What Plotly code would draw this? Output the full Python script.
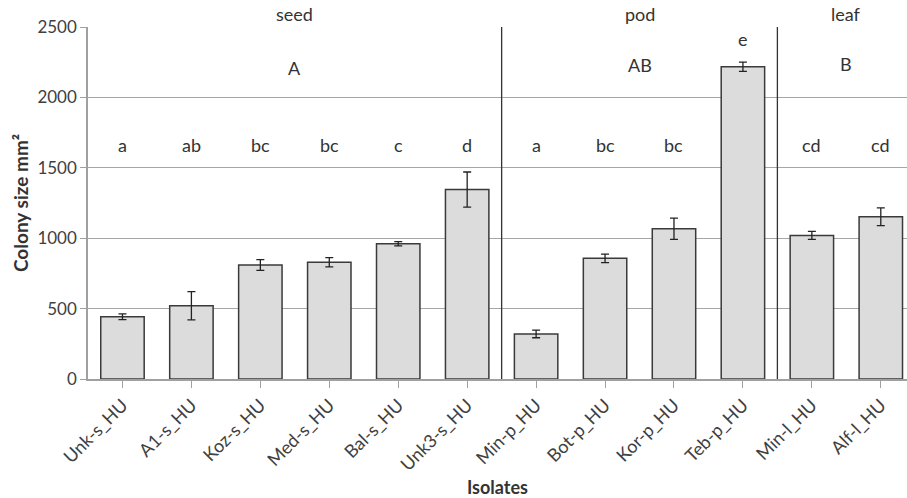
import plotly.graph_objects as go

isolates = ["Unk-s_HU", "A1-s_HU", "Koz-s_HU", "Med-s_HU", "Bal-s_HU", "Unk3-s_HU",
            "Min-p_HU", "Bot-p_HU", "Kor-p_HU", "Teb-p_HU", "Min-l_HU", "Alf-l_HU"]
colony_size = [442, 520, 810, 829, 961, 1345, 320, 857, 1067, 2218, 1020, 1153]
error = [20, 100, 38, 33, 15, 125, 27, 30, 75, 33, 28, 63]
letters = ["a", "ab", "bc", "bc", "c", "d", "a", "bc", "bc", "e", "cd", "cd"]
letter_y = [1660, 1660, 1660, 1660, 1660, 1660, 1660, 1660, 1660, 2415, 1665, 1665]

groups = ["seed", "pod", "leaf"]
group_center = [2.5, 7.5, 10.5]
group_letters = ["A", "AB", "B"]
group_letter_y = [2210, 2230, 2235]
separators = [5.5, 9.5]

FONT = "Lato, 'Open Sans', sans-serif"
x_idx = list(range(len(isolates)))

fig = go.Figure()
fig.add_trace(go.Bar(
    x=x_idx, y=colony_size, width=0.63,
    marker=dict(color="#dcdcdd", line=dict(color="#3a3a3a", width=1.5)),
    error_y=dict(type="data", array=error, color="#222222", thickness=1.3, width=4),
    showlegend=False,
))

for i, (lab, ly) in enumerate(zip(letters, letter_y)):
    fig.add_annotation(x=i, y=ly, text=lab, showarrow=False,
                       font=dict(family=FONT, size=18, color="#333333"))

for gx, g, gl, gy in zip(group_center, groups, group_letters, group_letter_y):
    fig.add_annotation(x=gx, yref="paper", y=1.037, yanchor="middle", text=g, showarrow=False,
                       font=dict(family=FONT, size=18, color="#333333"))
    fig.add_annotation(x=gx, y=gy, text=gl, showarrow=False,
                       font=dict(family=FONT, size=18, color="#333333"))

fig.add_shape(type="line", x0=separators[0], x1=separators[0], y0=-100, y1=2620,
              line=dict(color="#333333", width=1.3))
fig.add_shape(type="line", x0=separators[1], x1=separators[1], y0=-40, y1=2650,
              line=dict(color="#333333", width=1.3))

# axis titles
fig.add_annotation(xref="paper", yref="paper", x=0.5, y=0, yshift=-108,
                   xanchor="center", yanchor="middle",
                   text="<b>Isolates</b>", showarrow=False,
                   font=dict(family=FONT, size=18, color="#333333"))
fig.add_annotation(xref="paper", yref="paper", x=0, xshift=-68, y=0.5,
                   xanchor="center", yanchor="middle",
                   text="<b>Colony size mm²</b>", showarrow=False, textangle=-90,
                   font=dict(family=FONT, size=19, color="#333333"))

fig.update_layout(
    width=907, height=498,
    margin=dict(l=88, r=0, t=27, b=119),
    plot_bgcolor="white", paper_bgcolor="white",
    xaxis=dict(
        range=[-0.5, 11.38], tickmode="array", tickvals=x_idx, ticktext=isolates,
        tickangle=-45, tickson="boundaries", ticks="outside", ticklen=7,
        tickcolor="#a0a0a0", showline=True, linecolor="#a0a0a0", linewidth=1.5,
        showgrid=False, automargin=False,
        tickfont=dict(family=FONT, size=18, color="#404040"),
    ),
    yaxis=dict(
        range=[0, 2500], tickvals=[0, 500, 1000, 1500, 2000, 2500],
        showgrid=True, gridcolor="#a6a6a6", gridwidth=1.3,
        showline=True, linecolor="#a0a0a0", linewidth=1.5,
        ticks="outside", ticklen=6, tickcolor="#a0a0a0", automargin=False,
        tickfont=dict(family=FONT, size=17, color="#404040"),
        zeroline=False,
    ),
)

fig.write_html("out.html", config={"displayModeBar": False},
               post_script="document.body.style.margin='0';document.body.style.overflow='hidden';")
